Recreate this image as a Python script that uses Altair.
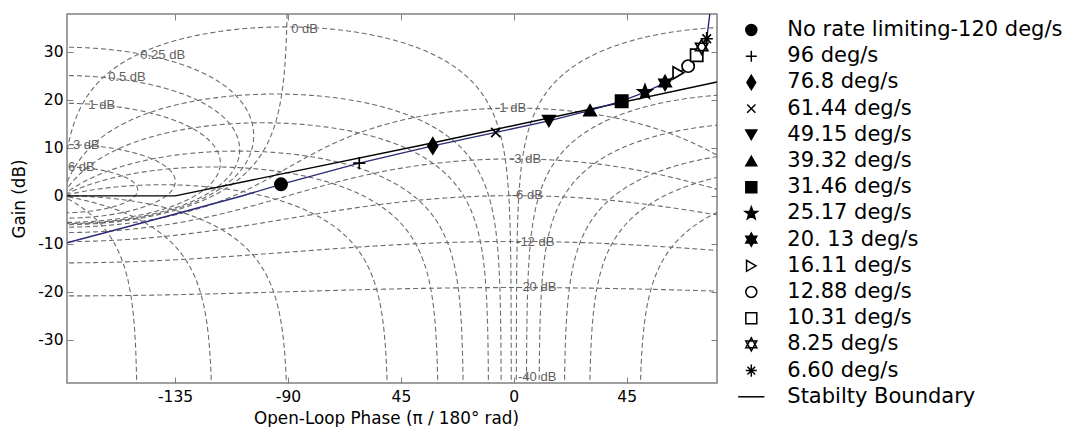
import numpy as np
import pandas as pd
import altair as alt

# ---------------- values ----------------
series_names = ["No rate limiting-120 deg/s", "96 deg/s", "76.8 deg/s", "61.44 deg/s",
                "49.15 deg/s", "39.32 deg/s", "31.46 deg/s", "25.17 deg/s", "20. 13 deg/s",
                "16.11 deg/s", "12.88 deg/s", "10.31 deg/s", "8.25 deg/s", "6.60 deg/s"]
marker_phase = [-92.8, -61.6, -32.3, -7.2, 14.0, 30.4, 43.0, 52.3, 60.3, 65.6, 69.5, 72.9, 74.9, 76.9]
marker_gain = [2.4, 6.8, 10.4, 13.2, 15.6, 17.8, 19.7, 21.6, 23.5, 25.6, 27.0, 29.25, 31.0, 32.7]

boundary_label = "Stabilty Boundary"
boundary_phase = [-178.1, -135.0, -33.5, 81.0]
boundary_gain = [0.0, 0.0, 10.9, 23.7]

response_phase = [-178.1, -139.0, -108.4, -92.8, -61.6, -32.3, -7.2, 14.0, 30.4, 43.0,
                  52.3, 60.3, 65.6, 69.5, 72.9, 74.9, 76.9, 78.3]
response_gain = [-9.75, -4.34, -0.03, 2.4, 6.8, 10.4, 13.2, 15.6, 17.8, 19.7,
                 21.6, 23.5, 25.6, 27.0, 29.25, 31.0, 32.7, 38.5]

x_tick_values = [-135, -90, -45, 0, 45]
x_tick_labels = ["-135", "-90", "45", "0", "45"]
y_tick_values = [-30, -20, -10, 0, 10, 20, 30]
y_tick_labels = ["-30", "-20", "-10", "0", "10", "20", "30"]

# Nichols grid (closed-loop gain / phase contour levels)
grid_gain_levels_db = [6, 3, 1, 0.5, 0.25, 0, -1, -3, -6, -12, -20, -40]
grid_phase_levels_deg = [-1, -5, -10, -20, -30, -50, -90, -120, -150, -180,
                         1, 5, 10, 20, 30, 50, 90, 120, 150]
grid_label_text = ["0 dB", "0.25 dB", "0.5 dB", "1 dB", "3 dB", "6 dB",
                   "-1 dB", "-3 dB", "-6 dB", "-12 dB", "-20 dB", "-40 dB"]
grid_label_phase = [-88.7, -148.9, -161.7, -169.6, -175.7, -177.7,
                    -7.5, -1.5, -0.8, 0.9, 1.7, 1.7]
grid_label_gain = [34.7, 29.25, 24.7, 18.85, 10.5, 6.0,
                   18.2, 7.7, 0.1, -9.5, -18.9, -37.8]

X_MIN, X_MAX = -178.1, 81.0
Y_MIN, Y_MAX = -38.95, 37.85
W, H = 650, 369
PX_X = W / (X_MAX - X_MIN)
PX_Y = H / (Y_MAX - Y_MIN)


# ---------------- Nichols grid geometry ----------------
def split_runs(ph, gd):
    ok = (np.isfinite(ph) & np.isfinite(gd) & (ph > X_MIN - 12) & (ph < X_MAX + 12)
          & (gd > Y_MIN - 6) & (gd < Y_MAX + 6))
    runs, start = [], None
    for i, v in enumerate(ok):
        if v and start is None:
            start = i
        if (not v) and start is not None:
            runs.append((start, i))
            start = None
    if start is not None:
        runs.append((start, len(ok)))
    return [(ph[a:b], gd[a:b]) for a, b in runs if b - a > 1]


def decimate(ph, gd, step=1.5):
    px, py = ph * PX_X, gd * PX_Y
    keep = [0]
    lx, ly = px[0], py[0]
    for i in range(1, len(ph) - 1):
        if (px[i] - lx) ** 2 + (py[i] - ly) ** 2 >= step * step:
            keep.append(i)
            lx, ly = px[i], py[i]
    keep.append(len(ph) - 1)
    return ph[keep], gd[keep]


curves = []
for mdb in grid_gain_levels_db:
    M = 10 ** (mdb / 20)
    if mdb == 0:
        phi = np.linspace(-269.999, -90.001, 8001)
        g = -1 / (2 * np.cos(np.radians(phi)))
        curves.append((phi, 20 * np.log10(g)))
    elif M < 1:
        phi = np.linspace(X_MIN - 12, X_MAX + 12, 3001)
        c = np.cos(np.radians(phi))
        g = (M * M * c + M * np.sqrt(M * M * c * c + 1 - M * M)) / (1 - M * M)
        curves.append((phi, 20 * np.log10(g)))
    else:
        th = np.linspace(0, 2 * np.pi, 4001)
        cen, rad = -M * M / (M * M - 1), M / (M * M - 1)
        L = cen + rad * np.exp(1j * th)
        ph = np.mod(np.degrees(np.angle(L)), 360) - 360
        curves.append((ph, 20 * np.log10(np.abs(L))))

for psi in grid_phase_levels_deg:
    s = np.radians(psi)
    m1 = 10 ** np.linspace(-3, 3, 2500)
    m2 = np.cos(s) + abs(np.sin(s)) * np.tan(np.linspace(-1.55, 1.55, 600))
    m = np.unique(np.concatenate([m1, m2[m2 > 0]]))
    T = m * np.exp(1j * s)
    L = T / (1 - T)
    ph = np.degrees(np.unwrap(np.angle(L)))
    ph += 360 * np.round((psi - ph[0]) / 360)
    curves.append((ph, 20 * np.log10(np.abs(L))))

rows = []
gid = 0
for ph, gd in curves:
    for a, b in split_runs(ph, gd):
        a2, b2 = decimate(a, b)
        for k, (u, v) in enumerate(zip(a2, b2)):
            rows.append({"phase": round(float(u), 3), "gain": round(float(v), 3), "gid": gid, "idx": k})
        gid += 1
grid_df = pd.DataFrame(rows)

label_df = pd.DataFrame({"phase": grid_label_phase, "gain": grid_label_gain, "text": grid_label_text})
boundary_df = pd.DataFrame({"phase": boundary_phase, "gain": boundary_gain})
response_df = pd.DataFrame({"phase": response_phase, "gain": response_gain})
marker_df = pd.DataFrame({"phase": marker_phase, "gain": marker_gain, "series": series_names})


# ---------------- marker shapes ----------------
def star_path(n, r_out, r_in):
    pts = []
    for k in range(2 * n):
        r = r_out if k % 2 == 0 else r_in
        a = np.radians(-90 + k * 180 / n)
        pts.append(f"{r * np.cos(a):.3f},{r * np.sin(a):.3f}")
    return "M" + "L".join(pts) + "Z"


plus_p = "M-1,0H1M0,-1V1"
diamond_p = "M0,-1.3L0.8,0L0,1.3L-0.8,0Z"
xmark_p = "M-0.75,-0.75L0.75,0.75M-0.75,0.75L0.75,-0.75"
star5_p = star_path(5, 1.2, 0.5)
hexa_p = "M0,-1.2L1,0.6L-1,0.6ZM0,1.2L-1,-0.6L1,-0.6Z"
aster_p = "M-1,0H1M0,-1.1V1.1M-0.7,-0.7L0.7,0.7M-0.7,0.7L0.7,-0.7"
line_p = "M-2.4,0H2.4"

legend_names = series_names + [boundary_label]
shape_range = ["circle", plus_p, diamond_p, xmark_p, "triangle-down", "triangle-up", "square",
               star5_p, hexa_p, "triangle-right", "circle", "square", hexa_p, aster_p, line_p]
fill_range = ["black", "transparent", "black", "transparent", "black", "black", "black",
              "black", "black", "white", "white", "white", "white", "transparent", "transparent"]
stroke_range = ["black"] * len(legend_names)


def lab_expr(values, labels):
    expr = "''"
    for v, l in zip(reversed(values), reversed(labels)):
        expr = f"datum.value == {v} ? '{l}' : ({expr})"
    return expr


xs = alt.Scale(domain=[X_MIN, X_MAX], nice=False, zero=False)
ys = alt.Scale(domain=[Y_MIN, Y_MAX], nice=False, zero=False)

GRAY = "#808080"
GRID = "#6c6c6c"
FONT = "DejaVu Sans"

x_axis_main = alt.Axis(values=x_tick_values, labelExpr=lab_expr(x_tick_values, x_tick_labels),
                       title="Open-Loop Phase (\u03c0 / 180\u00b0 rad)", grid=False, domain=False,
                       tickSize=6, offset=-6, tickColor=GRAY, labelPadding=6, labelFontSize=15.5,
                       labelFont=FONT, labelColor="black", titleFont=FONT, titleFontSize=16.8,
                       titleFontWeight="normal", titleColor="black", titlePadding=6,
                       titleX=319)
y_axis_main = alt.Axis(values=y_tick_values, labelExpr=lab_expr(y_tick_values, y_tick_labels),
                       title="Gain (dB)", grid=False, domain=False, tickSize=6, offset=-6,
                       tickColor=GRAY, labelPadding=4, labelFontSize=15.5, labelFont=FONT,
                       labelColor="black", titleFont=FONT, titleFontSize=16.8,
                       titleFontWeight="normal", titleColor="black", titlePadding=9)
x_axis_top = alt.Axis(orient="top", values=x_tick_values, labels=False, title=None, grid=False,
                      domain=False, tickSize=6, offset=-6, tickColor=GRAY)
y_axis_right = alt.Axis(orient="right", values=y_tick_values, labels=False, title=None, grid=False,
                        domain=False, tickSize=6, offset=-6, tickColor=GRAY)

grid_layer = alt.Chart(grid_df).mark_line(strokeDash=[5, 3], strokeWidth=1.1, color=GRID, clip=True).encode(
    x=alt.X("phase:Q", scale=xs, axis=x_axis_main),
    y=alt.Y("gain:Q", scale=ys, axis=y_axis_main),
    detail="gid:N",
    order="idx:Q",
)

label_layer = alt.Chart(label_df).mark_text(align="left", baseline="middle", font="Liberation Sans",
                                            fontSize=13, color="#5f5f5f", clip=True).encode(
    x=alt.X("phase:Q", scale=xs, axis=x_axis_top),
    y=alt.Y("gain:Q", scale=ys, axis=y_axis_right),
    text="text:N",
)

boundary_layer = alt.Chart(boundary_df).mark_line(color="black", strokeWidth=1.4, clip=True).encode(
    x=alt.X("phase:Q", scale=xs, axis=None),
    y=alt.Y("gain:Q", scale=ys, axis=None),
)

response_layer = alt.Chart(response_df).mark_line(color="#2a2a78", strokeWidth=1.4, clip=True).encode(
    x=alt.X("phase:Q", scale=xs, axis=None),
    y=alt.Y("gain:Q", scale=ys, axis=None),
)

legend_def = alt.Legend(title=None, orient="none", legendX=673.8, legendY=5.5, padding=0,
                        labelFont=FONT, labelFontSize=21, labelColor="black", labelLimit=500,
                        labelOffset=25.5, symbolSize=120, symbolStrokeWidth=1.5, rowPadding=4.2,
                        symbolOpacity=1)

point_layer = alt.Chart(marker_df).mark_point(size=150, strokeWidth=1.7, opacity=1, clip=True).encode(
    x=alt.X("phase:Q", scale=xs, axis=None),
    y=alt.Y("gain:Q", scale=ys, axis=None),
    shape=alt.Shape("series:N", scale=alt.Scale(domain=legend_names, range=shape_range), legend=legend_def),
    fill=alt.Fill("series:N", scale=alt.Scale(domain=legend_names, range=fill_range), legend=legend_def),
    stroke=alt.Stroke("series:N", scale=alt.Scale(domain=legend_names, range=stroke_range), legend=legend_def),
)

chart = alt.layer(grid_layer, label_layer, boundary_layer, response_layer, point_layer).resolve_axis(
    x="independent", y="independent"
).properties(
    width=W, height=H,
    autosize=alt.AutoSizeParams(type="none"),
    padding={"left": 67, "top": 14, "right": 352, "bottom": 44},
    background="white",
).configure_view(stroke=GRAY, strokeWidth=1.5)

chart.save("out.html", embed_options={"renderer": "svg", "actions": False})
